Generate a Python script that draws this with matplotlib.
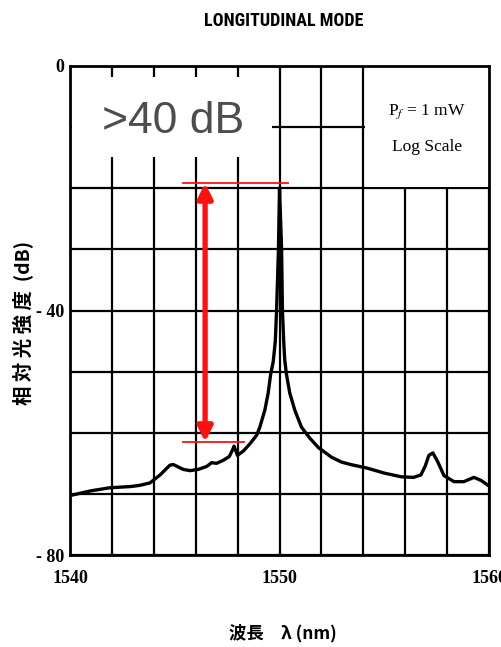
import matplotlib
matplotlib.use("Agg")
import matplotlib.pyplot as plt
from matplotlib.patches import Rectangle
from matplotlib import font_manager

plt.rcParams['mathtext.fontset'] = 'stix'

# ---- data ----
wavelength = [1540.1, 1541.0, 1541.9, 1542.9, 1543.34, 1543.82, 1544.3, 1544.77, 1544.93,
              1545.41, 1545.73, 1546.12, 1546.53, 1546.76, 1547.0, 1547.32, 1547.6, 1547.76,
              1547.83, 1547.92, 1547.99, 1548.27, 1548.59, 1548.91, 1549.06, 1549.3, 1549.46,
              1549.58, 1549.7, 1549.8, 1549.86, 1549.95, 1550.0,
              1550.1, 1550.14, 1550.2, 1550.25, 1550.33, 1550.49, 1550.73, 1551.05, 1551.45, 1551.85,
              1552.48, 1552.96, 1553.4, 1554.2, 1555.0, 1555.8, 1556.4, 1556.75, 1556.95,
              1557.13, 1557.32, 1557.56, 1557.85, 1558.33, 1558.8, 1559.28, 1559.62, 1560.0]
intensity = [-70.2, -69.5, -69.0, -68.8, -68.6, -68.2, -66.9, -65.3, -65.2,
             -66.0, -66.2, -66.0, -65.5, -64.9, -65.0, -64.5, -63.9, -62.8,
             -62.2, -63.0, -63.7, -63.0, -61.8, -60.4, -59.1, -56.3, -53.5,
             -50.4, -48.4, -45.0, -40.0, -30.0, -20.0,
             -30.0, -40.0, -45.0, -48.1, -50.4, -53.5, -56.3, -59.1, -60.9, -62.4,
             -64.0, -64.8, -65.2, -65.8, -66.6, -67.2, -67.3, -66.9, -65.5,
             -63.7, -63.3, -64.8, -67.0, -68.0, -68.0, -67.3, -67.8, -68.7]

x_ticks = [1540, 1542, 1544, 1546, 1548, 1550, 1552, 1554, 1556, 1558, 1560]
x_ticklabels = ['1540', '', '', '', '', '1550', '', '', '', '', '1560']
y_ticks = [0, -10, -20, -30, -40, -50, -60, -70, -80]
y_ticklabels = ['0', '', '', '', '- 40', '', '', '', '- 80']

title = 'LONGITUDINAL MODE'
xlabel = '波長　λ (nm)'
ylabel = '相 対 光 強 度  (dB)'
legend_lines = ['P$_{f}$ = 1 mW', 'Log Scale']
annot_text = '>40 dB'
annot_top = -19.15
annot_bottom = -61.5

# pick a narrow sans for the title if one is installed
_fonts = font_manager.fontManager.ttflist
_names = {f.name for f in _fonts}
title_family = 'DejaVu Sans'
title_stretch = 'normal'
for cand in ['Liberation Sans Narrow', 'Roboto Condensed', 'Open Sans Condensed', 'DejaVu Sans Condensed']:
    if cand in _names:
        title_family = cand
        break
else:
    if any(f.name == 'DejaVu Sans' and f.stretch == 'condensed' for f in _fonts):
        title_stretch = 'condensed'

# ---- figure ----
fig = plt.figure(figsize=(5.01, 6.47), dpi=100)
ax = fig.add_axes([70/501, (647-555)/647, 419/501, 489/647])
ax.set_xlim(1540, 1560)
ax.set_ylim(-80, 0)

ax.set_xticks(x_ticks)
ax.set_xticklabels(x_ticklabels)
ax.set_yticks(y_ticks)
ax.set_yticklabels(y_ticklabels)
ax.tick_params(length=0)
ax.tick_params(axis='x', pad=11)
ax.tick_params(axis='y', pad=4)
for lab in ax.get_xticklabels() + ax.get_yticklabels():
    lab.set_fontfamily(['Liberation Serif', 'DejaVu Serif'])
    lab.set_fontweight('bold')
    lab.set_fontsize(13)

ax.set_axisbelow(True)
ax.grid(True, color='black', lw=1.6)
for sp in ax.spines.values():
    sp.set_linewidth(2.0)
    sp.set_zorder(2.5)

# white boxes covering parts of the grid
ax.add_patch(Rectangle((1540.08, -14.9), 9.55, 13.1, facecolor='white', edgecolor='none', zorder=1))
ax.add_patch(Rectangle((1554.08, -19.75), 5.9, 19.7, facecolor='white', edgecolor='none', zorder=1))

# spectrum
ax.plot(wavelength, intensity, color='black', lw=2.4, zorder=3, solid_joinstyle='round')

# red annotation
ax.plot([1545.4, 1550.4], [annot_top, annot_top], color='#ff1010', lw=1.3, zorder=4)
ax.plot([1545.4, 1548.3], [annot_bottom, annot_bottom], color='#ff1010', lw=1.3, zorder=4)
ax.annotate('', xy=(1546.45, annot_top), xytext=(1546.45, annot_bottom),
            arrowprops=dict(arrowstyle='<|-|>', color='#ff1010', lw=3.8,
                            mutation_scale=22, shrinkA=0, shrinkB=0), zorder=4)
ax.text(1544.9, -9.1, annot_text, ha='center', va='center', fontsize=32,
        color='#4d4d4d', family=['Liberation Sans', 'DejaVu Sans'], zorder=5)

# legend text
ax.text(1557.05, -7.4, legend_lines[0], ha='center', va='center', fontsize=12.5,
        family=['Liberation Serif', 'DejaVu Serif'], zorder=5)
ax.text(1557.05, -13.2, legend_lines[1], ha='center', va='center', fontsize=12.5,
        family=['Liberation Serif', 'DejaVu Serif'], zorder=5)

# title and axis labels
fig.text(284/501, 1-21/647, title, ha='center', va='center', fontsize=13,
         fontweight='bold', family=[title_family, 'DejaVu Sans'], stretch=title_stretch)
fig.text(283/501, 1-633/647, xlabel, ha='center', va='center', fontsize=12.5,
         fontweight='bold', family=['Noto Sans CJK JP', 'DejaVu Sans'])
fig.text(23/501, 1-323/647, ylabel, ha='center', va='center', fontsize=14,
         rotation=90, fontweight='bold', family=['Noto Sans CJK JP', 'DejaVu Sans'])

fig.savefig('out.png', dpi=100, facecolor='white')
